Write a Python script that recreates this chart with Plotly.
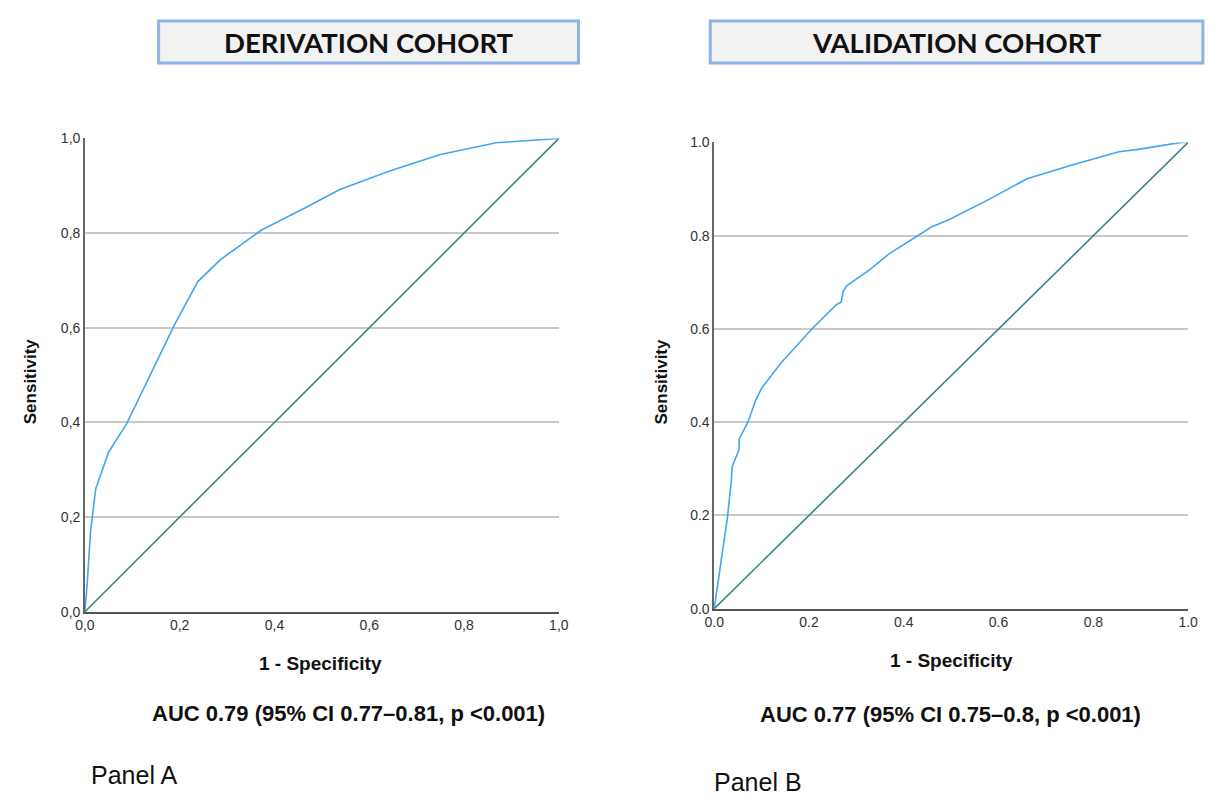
import plotly.graph_objects as go

# page is 1215x807; the browser body keeps its default 8px margin, so the figure is 16px smaller
PAGE_W, PAGE_H = 1215, 807
OFF = 8
W, H = PAGE_W - 2 * OFF, PAGE_H - 2 * OFF

# ---- data ----
deriv_fpr = [0, 0.005, 0.012, 0.023, 0.05, 0.088, 0.189, 0.238, 0.286, 0.372, 0.466, 0.538, 0.64, 0.75, 0.868, 1.0]
deriv_tpr = [0, 0.06, 0.17, 0.26, 0.337, 0.397, 0.606, 0.697, 0.744, 0.806, 0.854, 0.892, 0.93, 0.966, 0.991, 1.0]

valid_fpr = [0, 0.028, 0.036, 0.038, 0.052, 0.053, 0.071, 0.088, 0.10, 0.14, 0.209, 0.258, 0.268, 0.272, 0.28,
             0.327, 0.369, 0.431, 0.459, 0.493, 0.584, 0.66, 0.757, 0.854, 0.895, 0.985, 1.0]
valid_tpr = [0, 0.196, 0.273, 0.305, 0.34, 0.364, 0.40, 0.448, 0.473, 0.526, 0.603, 0.652, 0.658, 0.68, 0.693,
             0.726, 0.761, 0.80, 0.819, 0.833, 0.88, 0.922, 0.952, 0.98, 0.985, 1.0, 1.0]

ref_line = [0, 1]
tick_vals = [0, 0.2, 0.4, 0.6, 0.8, 1.0]
tick_text_comma = ["0,0", "0,2", "0,4", "0,6", "0,8", "1,0"]
tick_text_dot = ["0.0", "0.2", "0.4", "0.6", "0.8", "1.0"]

titles = ["DERIVATION COHORT", "VALIDATION COHORT"]
auc_texts = ["AUC 0.79 (95% CI 0.77–0.81, p <0.001)", "AUC 0.77 (95% CI 0.75–0.8, p <0.001)"]
panel_labels = ["Panel A", "Panel B"]

ROC_COLOR = "#42a7f0"
REF_COLOR = "#3a8582"

def px_x(p):
    return (p - OFF) / W

def px_y(p):
    return 1 - (p - OFF) / H

fig = go.Figure()

fig.add_trace(go.Scatter(x=deriv_fpr, y=deriv_tpr, mode="lines", line=dict(color=ROC_COLOR, width=1.6),
                         xaxis="x", yaxis="y", showlegend=False))
fig.add_trace(go.Scatter(x=ref_line, y=ref_line, mode="lines", line=dict(color=REF_COLOR, width=1.6),
                         xaxis="x", yaxis="y", showlegend=False))
fig.add_trace(go.Scatter(x=valid_fpr, y=valid_tpr, mode="lines", line=dict(color=ROC_COLOR, width=1.6),
                         xaxis="x2", yaxis="y2", showlegend=False))
fig.add_trace(go.Scatter(x=ref_line, y=ref_line, mode="lines", line=dict(color=REF_COLOR, width=1.6),
                         xaxis="x2", yaxis="y2", showlegend=False))

tickfont = dict(family="Liberation Sans, Arial, sans-serif", size=14, color="#333333")

def xax(domain, anchor, ticktext):
    return dict(domain=domain, anchor=anchor, range=[0, 1], tickvals=tick_vals, ticktext=ticktext,
                showgrid=False, zeroline=False, showline=True, linecolor="#555555", linewidth=1.5,
                ticks="", tickfont=tickfont, fixedrange=True)

def yax(domain, anchor, ticktext):
    return dict(domain=domain, anchor=anchor, range=[0, 1], tickvals=tick_vals, ticktext=ticktext,
                showgrid=True, gridcolor="#c8c8c8", gridwidth=1.5, zeroline=False, showline=True,
                linecolor="#666666", linewidth=1.5, ticks="", tickfont=tickfont, fixedrange=True)

fig.update_layout(
    width=W, height=H, margin=dict(l=0, r=0, t=0, b=0),
    paper_bgcolor="white", plot_bgcolor="white",
    xaxis=xax([px_x(76), px_x(558)], "y", tick_text_comma),
    yaxis=yax([px_y(616), px_y(133)], "x", tick_text_comma),
    xaxis2=xax([px_x(716), px_x(1198)], "y2", tick_text_dot),
    yaxis2=yax([px_y(613), px_y(137)], "x2", tick_text_dot),
)

# title boxes
boxes = [(151, 13, 578, 56), (712, 13, 1213, 56)]
for (x0, y0, x1, y1), t in zip(boxes, titles):
    fig.add_shape(type="rect", xref="paper", yref="paper", x0=px_x(x0), x1=px_x(x1), y0=px_y(y1), y1=px_y(y0),
                  fillcolor="#f2f2f2", line=dict(color="#8fb4e3", width=3))
    fig.add_annotation(xref="paper", yref="paper", x=px_x((x0 + x1) / 2), y=px_y((y0 + y1) / 2 + 1),
                       text="<b>%s</b>" % t, showarrow=False, xanchor="center", yanchor="middle",
                       font=dict(family="Lato, Open Sans, sans-serif", size=27.5, color="#111111"))

bold = dict(family="Liberation Sans, Arial, sans-serif", color="#111111")

# axis titles
for cx, cy in [(21, 381), (662, 381)]:
    fig.add_annotation(xref="paper", yref="paper", x=px_x(cx), y=px_y(cy), text="<b>Sensitivity</b>",
                       showarrow=False, textangle=-90, xanchor="center", yanchor="middle",
                       font=dict(size=17, **bold))
for cx, cy in [(316, 669), (957, 666)]:
    fig.add_annotation(xref="paper", yref="paper", x=px_x(cx), y=px_y(cy), text="<b>1 - Specificity</b>",
                       showarrow=False, xanchor="center", yanchor="middle", font=dict(size=19, **bold))

# AUC texts
for (cx, cy), t in zip([(344, 720), (956, 721)], auc_texts):
    fig.add_annotation(xref="paper", yref="paper", x=px_x(cx), y=px_y(cy), text="<b>%s</b>" % t,
                       showarrow=False, xanchor="center", yanchor="middle", font=dict(size=22, **bold))

# panel labels (bottom-anchored so that the lower one stays inside the page)
for (lx, by), t in zip([(80, 799), (714, 806)], panel_labels):
    fig.add_annotation(xref="paper", yref="paper", x=px_x(lx), y=px_y(by), text=t,
                       showarrow=False, xanchor="left", yanchor="bottom",
                       font=dict(family="Liberation Sans, Arial, sans-serif", size=25, color="#111111"))

fig.write_html("out.html", config={"displayModeBar": False})
